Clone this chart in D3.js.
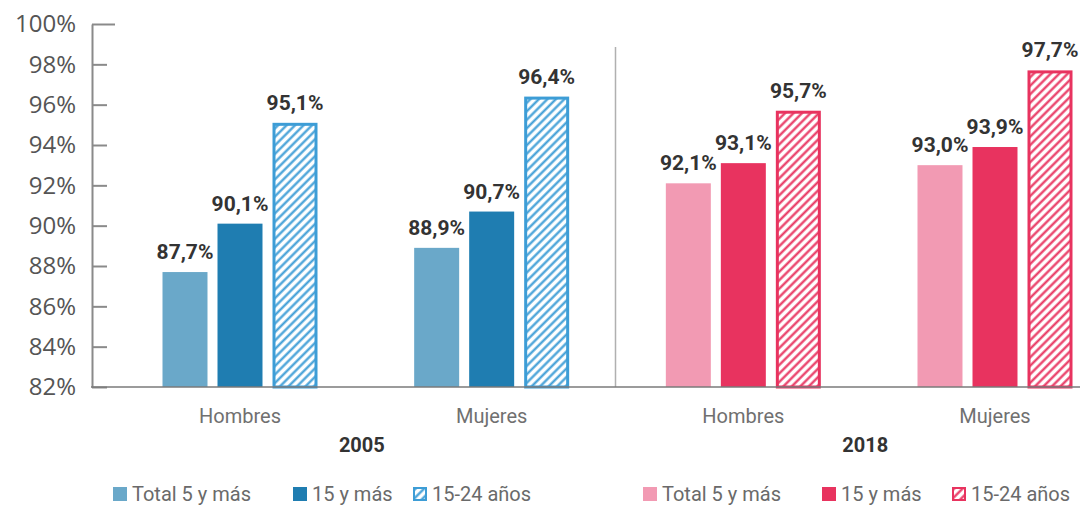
<!DOCTYPE html>
<html>
<head>
<meta charset="utf-8">
<script src="https://cdn.jsdelivr.net/npm/d3@7"></script>
<style>
  body { margin: 0; background: #fff; }
  svg { display: block; }
</style>
</head>
<body>
<svg id="chart" width="1086" height="506"></svg>
<script>
// Literacy rates by sex and age group, 2005 vs 2018
const years = ["2005", "2018"];
const sexes = ["Hombres", "Mujeres"];
const seriesNames = ["Total 5 y más", "15 y más", "15-24 años"];
const hombres2005 = [87.7, 90.1, 95.1];
const mujeres2005 = [88.9, 90.7, 96.4];
const hombres2018 = [92.1, 93.1, 95.7];
const mujeres2018 = [93.0, 93.9, 97.7];
const yTicks = [82, 84, 86, 88, 90, 92, 94, 96, 98, 100];

const palettes = {
  "2005": { fill: ["#6aa8c9", "#1f7db1"], hatch: "#3d9dd6" },
  "2018": { fill: ["#f29ab3", "#e8335f"], hatch: "#e8335f" }
};

const panels = [
  { year: "2005", sex: "Hombres", values: hombres2005 },
  { year: "2005", sex: "Mujeres", values: mujeres2005 },
  { year: "2018", sex: "Hombres", values: hombres2018 },
  { year: "2018", sex: "Mujeres", values: mujeres2018 }
].map(p => ({ ...p, key: p.year + "-" + p.sex }));

const svg = d3.select("#chart");
const axisX = 92, baseY = 387, topY = 24;

const y = d3.scaleLinear().domain([82, 100]).range([baseY, topY]);
const x = d3.scalePoint().domain(panels.map(p => p.key)).range([240, 995]);
const inner = d3.scaleBand().domain(seriesNames).range([-77.5, 77.5]).paddingInner(0.182);

const locale = d3.formatLocale({ decimal: ",", thousands: ".", grouping: [3], currency: ["", ""] });
const fmt = locale.format(".1f");

const labelFont = "Roboto, 'Noto Sans', sans-serif";

// Hatch patterns for the 15-24 group
const defs = svg.append("defs");
years.forEach(yr => {
  const pat = defs.append("pattern")
    .attr("id", "hatch-" + yr)
    .attr("patternUnits", "userSpaceOnUse")
    .attr("width", 6).attr("height", 6)
    .attr("patternTransform", "rotate(45)");
  pat.append("rect").attr("width", 6).attr("height", 6).attr("fill", "#fff");
  pat.append("line").attr("x1", 1.5).attr("x2", 1.5).attr("y1", 0).attr("y2", 6)
    .attr("stroke", palettes[yr].hatch).attr("stroke-width", 2.2);
});

// Y axis: labels on the left, ticks pointing into the plot
const yAxis = d3.axisLeft(y).tickValues(yTicks).tickSize(-15).tickSizeOuter(0).tickPadding(16)
  .tickFormat(d => d + "%");
const gy = svg.append("g").attr("transform", `translate(${axisX},0)`).call(yAxis);
gy.select(".domain").attr("stroke", "#8a8a8a").attr("stroke-width", 2);
gy.selectAll(".tick line").attr("stroke", "#8a8a8a").attr("stroke-width", 2)
  .filter(d => d === 100).attr("x2", 23);
gy.selectAll(".tick text").attr("fill", "#555")
  .style("font-family", "'Open Sans', sans-serif").style("font-size", "24px");

// Vertical divider between the two years
const divX = (x(panels[1].key) + x(panels[2].key)) / 2 - 2;
svg.append("line").attr("x1", divX).attr("x2", divX).attr("y1", 47).attr("y2", baseY)
  .attr("stroke", "#b0b0b0").attr("stroke-width", 1.5);

// Bars
panels.forEach(p => {
  const g = svg.append("g").attr("transform", `translate(${x(p.key)},0)`);
  p.values.forEach((v, i) => {
    const bx = inner(seriesNames[i]);
    const bw = inner.bandwidth();
    if (i < 2) {
      g.append("rect").attr("x", bx).attr("width", bw)
        .attr("y", y(v)).attr("height", baseY - y(v))
        .attr("fill", palettes[p.year].fill[i]);
    } else {
      g.append("rect").attr("x", bx + 1.5).attr("width", bw - 3)
        .attr("y", y(v) + 1.5).attr("height", baseY - y(v) - 1.5)
        .attr("fill", `url(#hatch-${p.year})`)
        .attr("stroke", palettes[p.year].hatch).attr("stroke-width", 3);
    }
    g.append("text").attr("x", bx + bw / 2).attr("y", y(v) - 13)
      .attr("text-anchor", "middle")
      .style("font-family", labelFont).style("font-weight", "bold").style("font-size", "21px")
      .attr("fill", "#333")
      .text(fmt(v) + "%");
  });
  g.append("text").attr("x", 0).attr("y", 423).attr("text-anchor", "middle")
    .style("font-family", labelFont).style("font-size", "20px").attr("fill", "#707070")
    .text(p.sex);
});

// Baseline
svg.append("line").attr("x1", axisX - 1).attr("x2", 1080).attr("y1", baseY).attr("y2", baseY)
  .attr("stroke", "#7a7a7a").attr("stroke-width", 1.5);

// Year labels
years.forEach(yr => {
  const ps = panels.filter(p => p.year === yr);
  const cx = d3.mean(ps, p => x(p.key));
  svg.append("text").attr("x", cx - 4).attr("y", 452).attr("text-anchor", "middle")
    .style("font-family", labelFont).style("font-weight", "bold").style("font-size", "20px")
    .attr("fill", "#333").text(yr);
});

// Legends, one per year
const legendStart = { "2005": 113, "2018": 643 };
const legendOffsets = { "2005": [0, 180, 300], "2018": [0, 179, 309] };
years.forEach(yr => {
  const lg = svg.append("g").attr("transform", `translate(${legendStart[yr]},0)`);
  seriesNames.forEach((name, i) => {
    const ox = legendOffsets[yr][i];
    if (i < 2) {
      lg.append("rect").attr("x", ox).attr("y", 487).attr("width", 14).attr("height", 14)
        .attr("fill", palettes[yr].fill[i]);
    } else {
      lg.append("rect").attr("x", ox + 1).attr("y", 488).attr("width", 12).attr("height", 12)
        .attr("fill", `url(#hatch-${yr})`)
        .attr("stroke", palettes[yr].hatch).attr("stroke-width", 2);
    }
    lg.append("text").attr("x", ox + 19).attr("y", 501)
      .style("font-family", labelFont).style("font-size", "20px").attr("fill", "#6a6a6a")
      .text(name);
  });
});
</script>
</body>
</html>
